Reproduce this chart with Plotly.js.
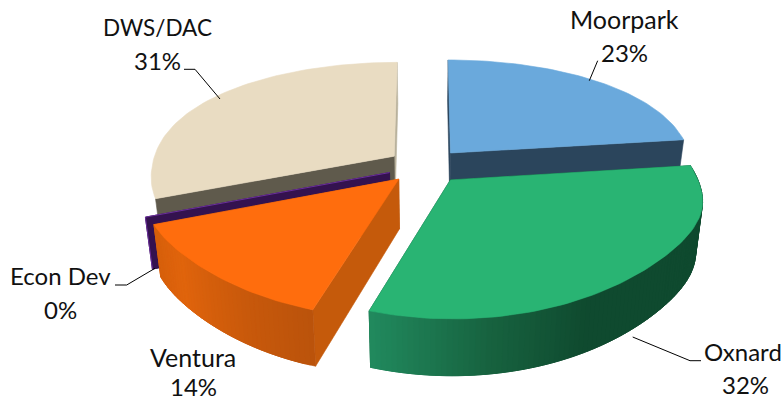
<!DOCTYPE html>
<html>
<head>
<meta charset="utf-8">
<script src="https://cdn.plot.ly/plotly-3.0.1.min.js"></script>
<style>html,body{margin:0;padding:0;background:#fff}#chart{width:783px;height:401px}</style>
</head>
<body>
<div id="chart"></div>
<script>
// Budget shares by area, clockwise from twelve o'clock
const categories = ['Moorpark', 'Oxnard', 'Ventura', 'Econ Dev', 'DWS/DAC'];
const shares = [23, 32, 14, 0, 31];

// Surface colours for each slice
const topColors = ['#6aa9dc', '#29b473', '#ff6d0d', '#34124f', '#e9dcc2'];
const startFaceColors = ['#2b455c', '#124f33', '#c55a0b', '#34124f', '#5f5a4c'];
const endFaceColors = ['#2b455c', '#124f33', '#c55a0b', '#34124f', '#b8b19c'];
// Rim shading as [angle, colour] stops; slices whose rim faces away have none
const rimStops = [
  null,
  [[83, '#0f4a2f'], [150, '#0f4a2f'], [172, '#17623f'], [198, '#218a5e']],
  [[198, '#bb530b'], [215, '#c9590b'], [235, '#e0640c'], [248.4, '#d65f0b']],
  null,
  null
];

// Back to front, so nearer slices paint over farther ones
const paintOrder = [4, 0, 3, 2, 1];

// Where each caption sits, its name size, and how its leader line runs
const captionAt = [[624.5, 18.5, 624, 52.5], [743, 351.5, 745, 384.5], [193, 356.5, 193, 386], [60, 275.5, 60, 309.5], [157, 27, 157, 60.5]];
const captionSizes = [25, 24, 25, 24, 22.5];
const leaders = [
  [[589.3, 80.7], [597.7, 60.7]],
  [[632.7, 337], [690, 360.7], [701, 360.7]],
  null,
  [[155, 268.3], [126.7, 285], [115, 285]],
  [[220, 99], [195, 69.3], [184, 69.3]]
];

// Projection of the tilted pie: unit disc coordinates to plot coordinates
const view = {cx: 425.5, cy: 166, rx: 241, ry: 111.8, dx: 10, dy: 6.24, explode: 0.158,
  drop: 49, dropTilt: 7, shrink: 0.025, bulge: 0.035, bulgeAt: -0.45, bulgeWidth: 0.35};
function project(X, Y, Z) {
  const sx = view.dx / (view.dx + Y) +
    view.bulge * Math.exp(-Math.pow((Y - view.bulgeAt) / view.bulgeWidth, 2));
  const sy = view.dy / (view.dy + Y);
  return [
    view.cx + X * view.rx * sx * (1 - view.shrink * Z),
    view.cy - Y * view.ry * sy + Z * (view.drop - view.dropTilt * Y)
  ];
}

function hexToRgb(h) { return [1, 3, 5].map(i => parseInt(h.substr(i, 2), 16)); }
function shade(stops, a) {
  if (a <= stops[0][0]) return stops[0][1];
  for (let i = 1; i < stops.length; i++) {
    if (a <= stops[i][0]) {
      const t = (a - stops[i - 1][0]) / (stops[i][0] - stops[i - 1][0]);
      const p = hexToRgb(stops[i - 1][1]), q = hexToRgb(stops[i][1]);
      return 'rgb(' + p.map((v, k) => Math.round(v + (q[k] - v) * t)).join(',') + ')';
    }
  }
  return stops[stops.length - 1][1];
}

const traces = [];
function polygon(points, color) {
  traces.push({
    type: 'scatter', mode: 'lines', hoverinfo: 'skip', fill: 'toself', fillcolor: color,
    x: points.map(p => p[0]), y: points.map(p => p[1]),
    line: {color: color, width: 0.6}
  });
}

const total = shares.reduce((a, b) => a + b, 0);
let running = 0;
const slices = shares.map(v => {
  const start = running / total * 360;
  running += v;
  return {start: start, end: running / total * 360};
});

const rad = d => d * Math.PI / 180;

paintOrder.forEach(i => {
  const {start, end} = slices[i];
  const mid = rad((start + end) / 2);
  const ox = view.explode * Math.sin(mid), oy = view.explode * Math.cos(mid);
  const rimPoint = (deg, z) => project(ox + Math.sin(rad(deg)), oy + Math.cos(rad(deg)), z);
  const apex = z => project(ox, oy, z);

  // The two radial cut faces
  polygon([apex(0), rimPoint(end, 0), rimPoint(end, 1), apex(1), apex(0)], endFaceColors[i]);
  polygon([apex(0), rimPoint(start, 0), rimPoint(start, 1), apex(1), apex(0)], startFaceColors[i]);

  // Outer wall, in overlapping bands so the shading can vary round the rim
  if (rimStops[i]) {
    const step = 1.2;
    for (let a = start; a < end - 1e-6; a += step) {
      const b = Math.min(a + step * 3, end);
      const band = [];
      for (let d = a; d < b; d += 0.6) band.push(rimPoint(d, 0));
      band.push(rimPoint(b, 0));
      band.push(rimPoint(b, 1));
      for (let d = b - 0.6; d > a; d -= 0.6) band.push(rimPoint(d, 1));
      band.push(rimPoint(a, 1));
      band.push(rimPoint(a, 0));
      polygon(band, shade(rimStops[i], a + step / 2));
    }
  }

  // Top surface
  if (end > start) {
    const top = [apex(0)];
    const n = Math.ceil((end - start) / 1.5);
    for (let k = 0; k <= n; k++) top.push(rimPoint(start + (end - start) * k / n, 0));
    top.push(apex(0));
    polygon(top, topColors[i]);
  } else {
    // A zero share has no surface; only its lit edge shows
    traces.push({type: 'scatter', mode: 'lines', hoverinfo: 'skip',
      x: [apex(0)[0], rimPoint(start, 0)[0], rimPoint(start, 1)[0]],
      y: [apex(0)[1], rimPoint(start, 0)[1], rimPoint(start, 1)[1]],
      line: {color: '#6b2f9c', width: 1}});
  }
});

// Leader lines
leaders.forEach(path => {
  if (!path) return;
  traces.push({type: 'scatter', mode: 'lines', hoverinfo: 'skip',
    x: path.map(p => p[0]), y: path.map(p => p[1]), line: {color: '#000', width: 1}});
});

// Captions: area name with its share beneath
const annotations = [];
categories.forEach((name, i) => {
  const c = captionAt[i];
  const base = {xref: 'x', yref: 'y', showarrow: false, xanchor: 'center', yanchor: 'middle'};
  const family = 'Lato, Carlito, sans-serif';
  annotations.push(Object.assign({x: c[0], y: c[1], text: name,
    font: {family: family, size: captionSizes[i], color: '#111'}}, base));
  annotations.push(Object.assign({x: c[2], y: c[3], text: shares[i] + '%',
    font: {family: family, size: 24, color: '#111'}}, base));
});

Plotly.newPlot('chart', traces, {
  width: 783, height: 401,
  margin: {l: 0, r: 0, t: 0, b: 0},
  paper_bgcolor: '#fff', plot_bgcolor: '#fff',
  showlegend: false,
  xaxis: {range: [0, 783], visible: false, fixedrange: true},
  yaxis: {range: [401, 0], visible: false, fixedrange: true},
  annotations: annotations
}, {displayModeBar: false, staticPlot: true});
</script>
</body>
</html>
